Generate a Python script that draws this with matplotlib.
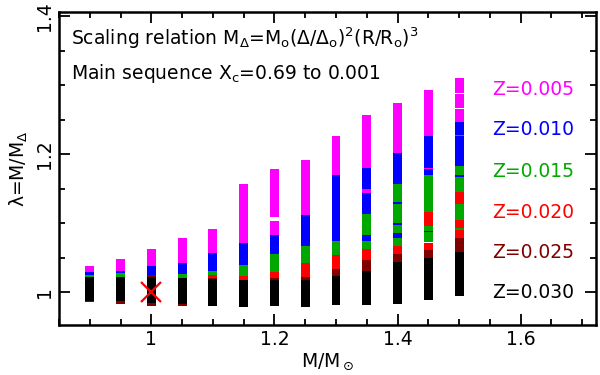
import matplotlib
matplotlib.use("Agg")
import matplotlib.pyplot as plt
from matplotlib.ticker import MultipleLocator, FixedLocator

plt.rcParams['font.family'] = ['DejaVu Sans']
plt.rcParams['mathtext.fontset'] = 'dejavusans'

# ---------------- data ----------------
mass = [0.90, 0.95, 1.00, 1.05, 1.10, 1.15, 1.20, 1.25, 1.30, 1.35, 1.40, 1.45, 1.50]

z_labels = ["Z=0.005", "Z=0.010", "Z=0.015", "Z=0.020", "Z=0.025", "Z=0.030"]
z_colors = ["#ff00ff", "#0000ff", "#00a800", "#ff0000", "#800000", "#000000"]

# upper end of lambda range for each metallicity
hi_z005 = [1.037, 1.048, 1.062, 1.079, 1.091, 1.156, 1.178, 1.192, 1.226, 1.256, 1.274, 1.293, 1.310]
hi_z010 = [1.029, 1.030, 1.037, 1.042, 1.057, 1.071, 1.083, 1.112, 1.170, 1.180, 1.202, 1.226, 1.246]
hi_z015 = [1.025, 1.027, 1.023, 1.026, 1.030, 1.039, 1.055, 1.066, 1.074, 1.113, 1.157, 1.170, 1.183]
hi_z020 = [1.021, 1.021, 1.023, 1.021, 1.024, 1.023, 1.029, 1.042, 1.054, 1.063, 1.067, 1.071, 1.090]
hi_z025 = [1.021, 1.021, 1.024, 1.021, 1.020, 1.018, 1.020, 1.022, 1.034, 1.047, 1.055, 1.061, 1.078]
hi_z030 = [1.022, 1.022, 1.022, 1.020, 1.019, 1.017, 1.017, 1.018, 1.023, 1.031, 1.043, 1.050, 1.058]

# lower end of lambda range
lo_z025 = [0.986, 0.983, 0.980, 0.980, 0.982, 0.981, 0.982, 0.981, 0.983, 0.983, 0.984, 0.990, 0.996]
lo_z030 = [0.987, 0.987, 0.984, 0.983, 0.980, 0.979, 0.980, 0.979, 0.981, 0.981, 0.983, 0.988, 0.994]

his = [hi_z005, hi_z010, hi_z015, hi_z020, hi_z025, hi_z030]
los = [lo_z030, lo_z030, lo_z030, lo_z030, lo_z025, lo_z030]

# interleaved stripes where later models overplot earlier ones
stripe_mass  = [1.20, 1.35, 1.35, 1.40, 1.40, 1.40, 1.45, 1.45, 1.45, 1.45, 1.50, 1.50, 1.50, 1.50, 1.50, 1.50]
stripe_lo    = [1.1033, 1.1430, 1.0743, 1.1275, 1.0971, 1.0783, 1.1780, 1.0961, 1.0870, 1.0712,
                1.2870, 1.2650, 1.2260, 1.1670, 1.1275, 1.0923]
stripe_hi    = [1.1091, 1.1488, 1.0826, 1.1309, 1.1004, 1.0851, 1.1800, 1.1164, 1.0888, 1.0728,
                1.2885, 1.2665, 1.2280, 1.1690, 1.1454, 1.1043]
stripe_color = ["white", "#ff00ff", "#0000ff", "#0000ff", "#0000ff", "#0000ff", "#ff00ff", "#ff0000",
                "#0000ff", "white", "white", "white", "#ff00ff", "#0000ff", "#ff0000", "#ff0000"]

sun_mass = [1.0]
sun_lambda = [1.0]

label_lambda = [1.293, 1.235, 1.175, 1.115, 1.057, 0.999]

# ---------------- plot ----------------
fig = plt.figure(figsize=(6, 3.75), dpi=100)
ax = fig.add_axes([59/600, 1 - 325/375, (596 - 59)/600, (325 - 12)/375])

bw = 0.0145
for hi, lo, c in zip(his, los, z_colors):
    h = [a - b for a, b in zip(hi, lo)]
    ax.bar(mass, h, bottom=lo, width=bw, color=c, linewidth=0, zorder=2)

sh = [a - b for a, b in zip(stripe_hi, stripe_lo)]
ax.bar(stripe_mass, sh, bottom=stripe_lo, width=bw, color=stripe_color, linewidth=0, zorder=3)

ax.plot(sun_mass, sun_lambda, marker='x', color='red', ms=15, mew=1.6, ls='none', zorder=4)

for lab, c, yv in zip(z_labels, z_colors, label_lambda):
    ax.text(1.5535, yv, lab, color=c, fontsize=13.5, va='center', ha='left')

ax.text(0.022, 0.915, r"Scaling relation M$_{\Delta}$=M$_\mathregular{o}$($\Delta$/$\Delta_\mathregular{o}$)$^\mathregular{2}$(R/R$_\mathregular{o}$)$^\mathregular{3}$",
        transform=ax.transAxes, fontsize=13.5, va='center', ha='left')
ax.text(0.022, 0.805, r"Main sequence X$_\mathregular{c}$=0.69 to 0.001",
        transform=ax.transAxes, fontsize=13.5, va='center', ha='left')

ax.set_xlim(0.85, 1.7225)
ax.set_ylim(0.9522, 1.4058)

ax.xaxis.set_major_locator(FixedLocator([1.0, 1.2, 1.4, 1.6]))
ax.xaxis.set_minor_locator(MultipleLocator(0.05))
ax.yaxis.set_major_locator(FixedLocator([1.0, 1.2, 1.4]))
ax.yaxis.set_minor_locator(MultipleLocator(0.05))
ax.set_xticklabels(["1", "1.2", "1.4", "1.6"])
ax.set_yticklabels(["1", "1.2", "1.4"], rotation=90, va='center')

ax.tick_params(which='both', direction='in', top=True, right=True, width=1.3, labelsize=13.5)
ax.tick_params(which='major', length=8)
ax.tick_params(which='minor', length=4)
for s in ax.spines.values():
    s.set_linewidth(1.8)

ax.set_xlabel(r"M/M$_\odot$", fontsize=13.5, labelpad=2)
ax.set_ylabel(r"λ=M/M$_\Delta$", fontsize=13.5, labelpad=4)

fig.savefig("out.png", dpi=100)
